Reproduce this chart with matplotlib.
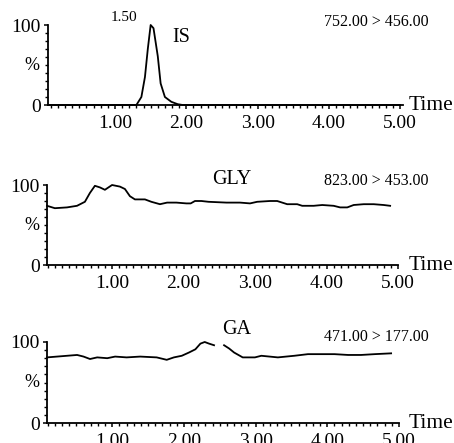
import numpy as np
import matplotlib
matplotlib.use("Agg")
import matplotlib.pyplot as plt
from matplotlib.ticker import MultipleLocator

plt.rcParams['font.family'] = ['Liberation Serif', 'DejaVu Serif']

# IS trace (752.00 > 456.00)
is_time = [0.06, 0.60, 1.20, 1.30, 1.37, 1.42, 1.46, 1.50, 1.54, 1.60, 1.64, 1.70, 1.79, 1.88, 1.95, 3.00, 5.00]
is_pct = [0, 0, 0, 0, 10, 35, 70, 100, 96, 61, 27, 10, 4, 1, 0, 0, 0]

# GLY trace (823.00 > 453.00)
gly_time = [0.09, 0.20, 0.37, 0.51, 0.62, 0.69, 0.76, 0.83, 0.90, 1.00, 1.11, 1.18, 1.25, 1.32,
            1.39, 1.46, 1.55, 1.67, 1.77, 1.90, 2.04, 2.10, 2.16, 2.25, 2.35, 2.60, 2.79, 2.93,
            3.03, 3.21, 3.31, 3.45, 3.59, 3.66, 3.82, 3.94, 4.10, 4.19, 4.29, 4.38, 4.52, 4.66,
            4.80, 4.89]
gly_pct = [74, 71, 72, 74, 79, 90, 99, 97, 94, 100, 98, 95, 86, 82,
           82, 82, 79, 76, 78, 78, 77, 77, 80, 80, 79, 78, 78, 77,
           79, 80, 80, 76, 76, 74, 74, 75, 74, 72, 72, 75, 76, 76,
           75, 74]

# GA trace (471.00 > 177.00), broken around 2.5 min
ga_time = [0.09, 0.23, 0.37, 0.51, 0.60, 0.69, 0.79, 0.93, 1.04, 1.20, 1.39, 1.62, 1.76, 1.86,
           1.97, 2.07, 2.16, 2.23, 2.29, 2.35, 2.42, 2.48, 2.56, 2.63, 2.70, 2.82, 2.99, 3.08,
           3.31, 3.54, 3.73, 3.91, 4.10, 4.29, 4.47, 4.66, 4.89]
ga_pct = [81, 82, 83, 84, 82, 79, 81, 80, 82, 81, 82, 81, 78, 81,
          83, 87, 91, 98, 100, 98, 96, np.nan, 96, 92, 87, 81, 81, 83,
          81, 83, 85, 85, 85, 84, 84, 85, 86]

panels = [
    dict(t=is_time, v=is_pct, name="IS", trans="752.00 > 456.00",
         box=(48, 403, 25, 105), xlim=(0.06, 5.04), name_xy=(181, 37), trans_y=22),
    dict(t=gly_time, v=gly_pct, name="GLY", trans="823.00 > 453.00",
         box=(47, 398, 185, 265), xlim=(0.09, 5.0), name_xy=(232, 179), trans_y=181),
    dict(t=ga_time, v=ga_pct, name="GA", trans="471.00 > 177.00",
         box=(47, 399, 342, 423), xlim=(0.09, 5.0), name_xy=(237, 330), trans_y=337),
]

W, H = 454, 443
fig = plt.figure(figsize=(W / 100, H / 100), dpi=100)

for p in panels:
    left, right, top, bottom = p["box"]
    ax = fig.add_axes([left / W, 1 - bottom / H, (right - left) / W, (bottom - top) / H])
    ax.plot(p["t"], p["v"], color="black", lw=1.3, clip_on=False)
    ax.set_xlim(*p["xlim"])
    ax.set_ylim(0, 100)
    for s in ["top", "right"]:
        ax.spines[s].set_visible(False)
    for s in ["left", "bottom"]:
        ax.spines[s].set_linewidth(1.3)
    ax.set_xticks([1, 2, 3, 4, 5])
    ax.set_xticklabels(["1.00", "2.00", "3.00", "4.00", "5.00"])
    ax.xaxis.set_minor_locator(MultipleLocator(0.1))
    ax.set_yticks([0, 100])
    ax.set_yticklabels(["0", "100"])
    ax.yaxis.set_minor_locator(MultipleLocator(10))
    ax.tick_params(axis="both", which="major", direction="out", length=3, width=1.1,
                   labelsize=14)
    ax.tick_params(axis="both", which="minor", direction="out", length=2.5, width=1.0)
    ax.tick_params(axis="x", which="major", pad=4)
    ax.tick_params(axis="y", which="major", pad=2)
    ax.patch.set_visible(False)

    # "%" in place of the mid-scale tick label
    fig.text(31.5 / W, 1 - ((top + bottom) / 2) / H, "%", fontsize=13,
             ha="center", va="center")
    fig.text(p["name_xy"][0] / W, 1 - p["name_xy"][1] / H, p["name"], fontsize=14.5,
             ha="center", va="center")
    fig.text(376 / W, 1 - p["trans_y"] / H, p["trans"], fontsize=11.5,
             ha="center", va="center")
    fig.text(409 / W, 1 - bottom / H, "Time", fontsize=15.5, ha="left", va="center")

# retention time of the IS peak
fig.text(124 / W, 1 - 17.5 / H, "1.50", fontsize=11, ha="center", va="center")

fig.savefig("out.png", dpi=100)
